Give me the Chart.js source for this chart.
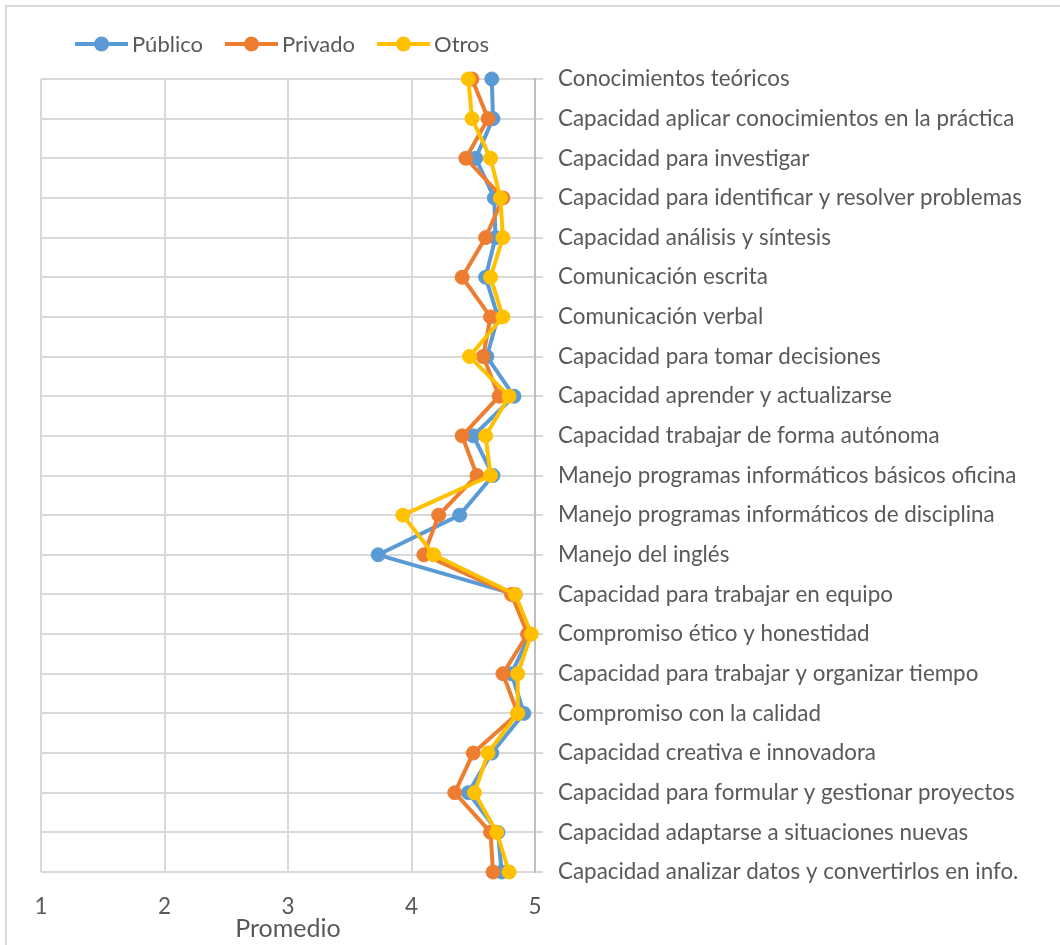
<!DOCTYPE html>
<html lang="es">
<head>
<meta charset="utf-8">
<title>Promedio por competencia</title>
<script src="https://cdn.jsdelivr.net/npm/chart.js@4.4.1/dist/chart.umd.min.js"></script>
<style>
  html, body { margin: 0; padding: 0; background: #fff; }
  #wrap { position: relative; width: 1060px; height: 945px; overflow: hidden; }
  #frame { position: absolute; left: 5px; top: 5px; width: 1100px; height: 1000px;
           border: 2px solid #d9d9d9; box-sizing: border-box; }
  #chart { position: absolute; left: 0; top: 0; }
</style>
</head>
<body>
<div id="wrap">
  <div id="frame"></div>
  <canvas id="chart" width="1060" height="945"></canvas>
</div>
<script>
const competencias = [
  'Conocimientos teóricos',
  'Capacidad aplicar conocimientos en la práctica',
  'Capacidad para investigar',
  'Capacidad para identificar y resolver problemas',
  'Capacidad análisis y síntesis',
  'Comunicación escrita',
  'Comunicación verbal',
  'Capacidad para tomar decisiones',
  'Capacidad aprender y actualizarse',
  'Capacidad trabajar de forma autónoma',
  'Manejo programas informáticos básicos oficina',
  'Manejo programas informáticos de disciplina',
  'Manejo del inglés',
  'Capacidad para trabajar en equipo',
  'Compromiso ético y honestidad',
  'Capacidad para trabajar y organizar tiempo',
  'Compromiso con la calidad',
  'Capacidad creativa e innovadora',
  'Capacidad para formular y gestionar proyectos',
  'Capacidad adaptarse a situaciones nuevas',
  'Capacidad analizar datos y convertirlos en info.'
];

const publico = [4.65, 4.66, 4.52, 4.67, 4.68, 4.60, 4.70, 4.61, 4.83, 4.50, 4.66,
                 4.39, 3.73, 4.84, 4.96, 4.81, 4.91, 4.65, 4.46, 4.70, 4.73];
const privado = [4.49, 4.62, 4.44, 4.74, 4.60, 4.41, 4.64, 4.58, 4.71, 4.41, 4.53,
                 4.22, 4.10, 4.81, 4.94, 4.74, 4.86, 4.50, 4.35, 4.64, 4.66];
const otros   = [4.46, 4.49, 4.64, 4.72, 4.74, 4.64, 4.74, 4.47, 4.79, 4.60, 4.64,
                 3.93, 4.18, 4.84, 4.97, 4.86, 4.86, 4.62, 4.51, 4.69, 4.79];

const xTicks = [1, 2, 3, 4, 5];

const FONT = 'Lato';
const TEXT = '#595959';
const GRID = '#d9d9d9';

function serie(label, data, color, order) {
  return {
    label: label,
    data: data,
    borderColor: color,
    backgroundColor: color,
    borderWidth: 4,
    pointRadius: 7,
    pointBorderWidth: 1,
    pointBackgroundColor: color,
    pointBorderColor: color,
    tension: 0,
    clip: false,
    order: order
  };
}

// legend drawn by hand: long line with a marker in the middle, like the office style
const lineLegend = {
  id: 'lineLegend',
  afterDraw(chart) {
    const ctx = chart.ctx;
    const y = 44;
    let x = 75;
    ctx.save();
    ctx.font = '22px ' + FONT;
    ctx.textBaseline = 'middle';
    ctx.textAlign = 'left';
    chart.data.datasets.forEach(ds => {
      ctx.strokeStyle = ds.borderColor;
      ctx.lineWidth = 4;
      ctx.beginPath();
      ctx.moveTo(x, y);
      ctx.lineTo(x + 53, y);
      ctx.stroke();
      ctx.fillStyle = ds.borderColor;
      ctx.beginPath();
      ctx.arc(x + 26.5, y, 7.5, 0, Math.PI * 2);
      ctx.fill();
      ctx.fillStyle = TEXT;
      ctx.fillText(ds.label, x + 57, y + 1);
      x += 57 + ctx.measureText(ds.label).width + 22;
    });
    ctx.restore();
  }
};

new Chart(document.getElementById('chart'), {
  type: 'line',
  data: {
    labels: competencias,
    datasets: [
      serie('Público', publico, '#5B9BD5', 2),
      serie('Privado', privado, '#ED7D31', 1),
      serie('Otros', otros, '#FFC000', 0)
    ]
  },
  options: {
    indexAxis: 'y',
    responsive: false,
    animation: false,
    layout: { padding: { top: 79, left: 41, right: 0, bottom: 0 } },
    plugins: {
      legend: { display: false },
      tooltip: { enabled: false }
    },
    scales: {
      x: {
        type: 'linear',
        position: 'bottom',
        min: 1,
        max: 5,
        afterBuildTicks: scale => { scale.ticks = xTicks.map(v => ({ value: v })); },
        afterFit: scale => { scale.height = 73; },
        grid: { color: GRID, lineWidth: 2, drawTicks: false, tickLength: 0 },
        border: { display: false },
        ticks: { color: TEXT, font: { family: FONT, size: 22.5 }, padding: 21 },
        title: {
          display: true,
          text: 'Promedio',
          color: TEXT,
          font: { family: FONT, size: 25 },
          padding: { top: 0, bottom: 1 }
        }
      },
      y: {
        type: 'category',
        position: 'right',
        offset: false,
        afterFit: scale => { scale.width = 525; },
        grid: { color: GRID, lineWidth: 2, drawTicks: true, tickLength: 8 },
        border: { display: true, color: '#bfbfbf', width: 2 },
        ticks: {
          color: TEXT,
          font: { family: FONT, size: 22.4 },
          padding: 15,
          autoSkip: false
        }
      }
    }
  },
  plugins: [lineLegend]
});
</script>
</body>
</html>
